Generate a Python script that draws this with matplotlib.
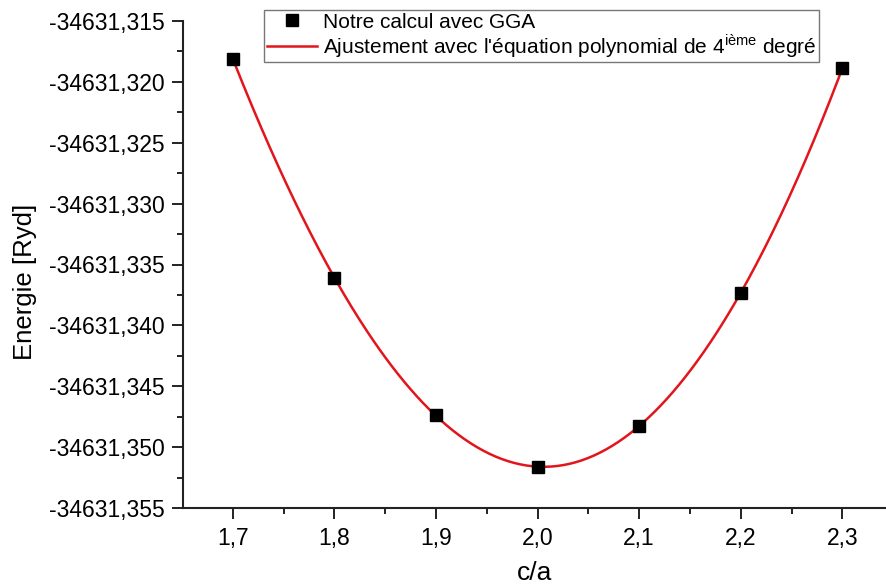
import matplotlib.pyplot as plt
from matplotlib.ticker import FuncFormatter, MultipleLocator
import numpy as np

plt.rcParams['font.family'] = ['Liberation Sans', 'DejaVu Sans']
plt.rcParams['mathtext.fontset'] = 'custom'
plt.rcParams['mathtext.rm'] = 'Liberation Sans'

# Data
c_a = [1.7, 1.8, 1.9, 2.0, 2.1, 2.2, 2.3]
energy = [-34631.3181, -34631.3361, -34631.3474, -34631.3516,
          -34631.3483, -34631.3373, -34631.3189]

# 4th degree polynomial fit
fit = np.polynomial.Polynomial.fit(c_a, energy, 4)
xf = np.linspace(min(c_a), max(c_a), 300)
yf = fit(xf)

fig = plt.figure(figsize=(8.86, 5.85), dpi=100)
ax = fig.add_axes([183 / 886, 1 - 508 / 585, 1 - 183 / 886, (508 - 21) / 585])

ax.plot(xf, yf, color='#e3151c', linewidth=1.8,
        label="Ajustement avec l'équation polynomial de 4$^{\\mathrm{ième}}$ degré", zorder=2)
ax.plot(c_a, energy, linestyle='none', marker='s', markersize=8.5,
        color='black', label='Notre calcul avec GGA', zorder=3)

ax.set_xlim(1.651, 2.343)
ax.set_ylim(-34631.355, -34631.315)

ax.xaxis.set_major_locator(MultipleLocator(0.1))
ax.xaxis.set_minor_locator(MultipleLocator(0.05))
ax.yaxis.set_major_locator(MultipleLocator(0.005))
ax.yaxis.set_minor_locator(MultipleLocator(0.0025))
ax.xaxis.set_major_formatter(FuncFormatter(lambda v, p: f'{v:.1f}'.replace('.', ',')))
ax.yaxis.set_major_formatter(FuncFormatter(lambda v, p: f'{v:.3f}'.replace('.', ',')))

for s in ['top', 'right']:
    ax.spines[s].set_visible(False)
for s in ['left', 'bottom']:
    ax.spines[s].set_linewidth(1.5)
    ax.spines[s].set_color('#222222')

ax.tick_params(which='major', direction='out', length=8, width=1.4, labelsize=16.5,
               color='#222222', pad=5)
ax.tick_params(which='minor', direction='out', length=4.5, width=1.4, color='#222222')
ax.tick_params(axis='x', pad=6)

ax.set_xlabel('c/a', fontsize=19)
ax.set_ylabel('Energie [Ryd]', fontsize=18.5)
ax.xaxis.set_label_coords(0.5, -0.108)
ax.yaxis.set_label_coords(-0.207, 0.464)

handles, labels = ax.get_legend_handles_labels()
leg = ax.legend(handles[::-1], labels[::-1], loc='upper left',
                bbox_to_anchor=(264 / 886, 1 - 10 / 585), bbox_transform=fig.transFigure,
                fontsize=15, frameon=True, fancybox=False, borderpad=0.12,
                labelspacing=0.02, handlelength=2.4, handletextpad=0.3, borderaxespad=0)
leg.get_frame().set_edgecolor('#555555')
leg.get_frame().set_linewidth(1.0)

fig.savefig('out.png', dpi=100)
